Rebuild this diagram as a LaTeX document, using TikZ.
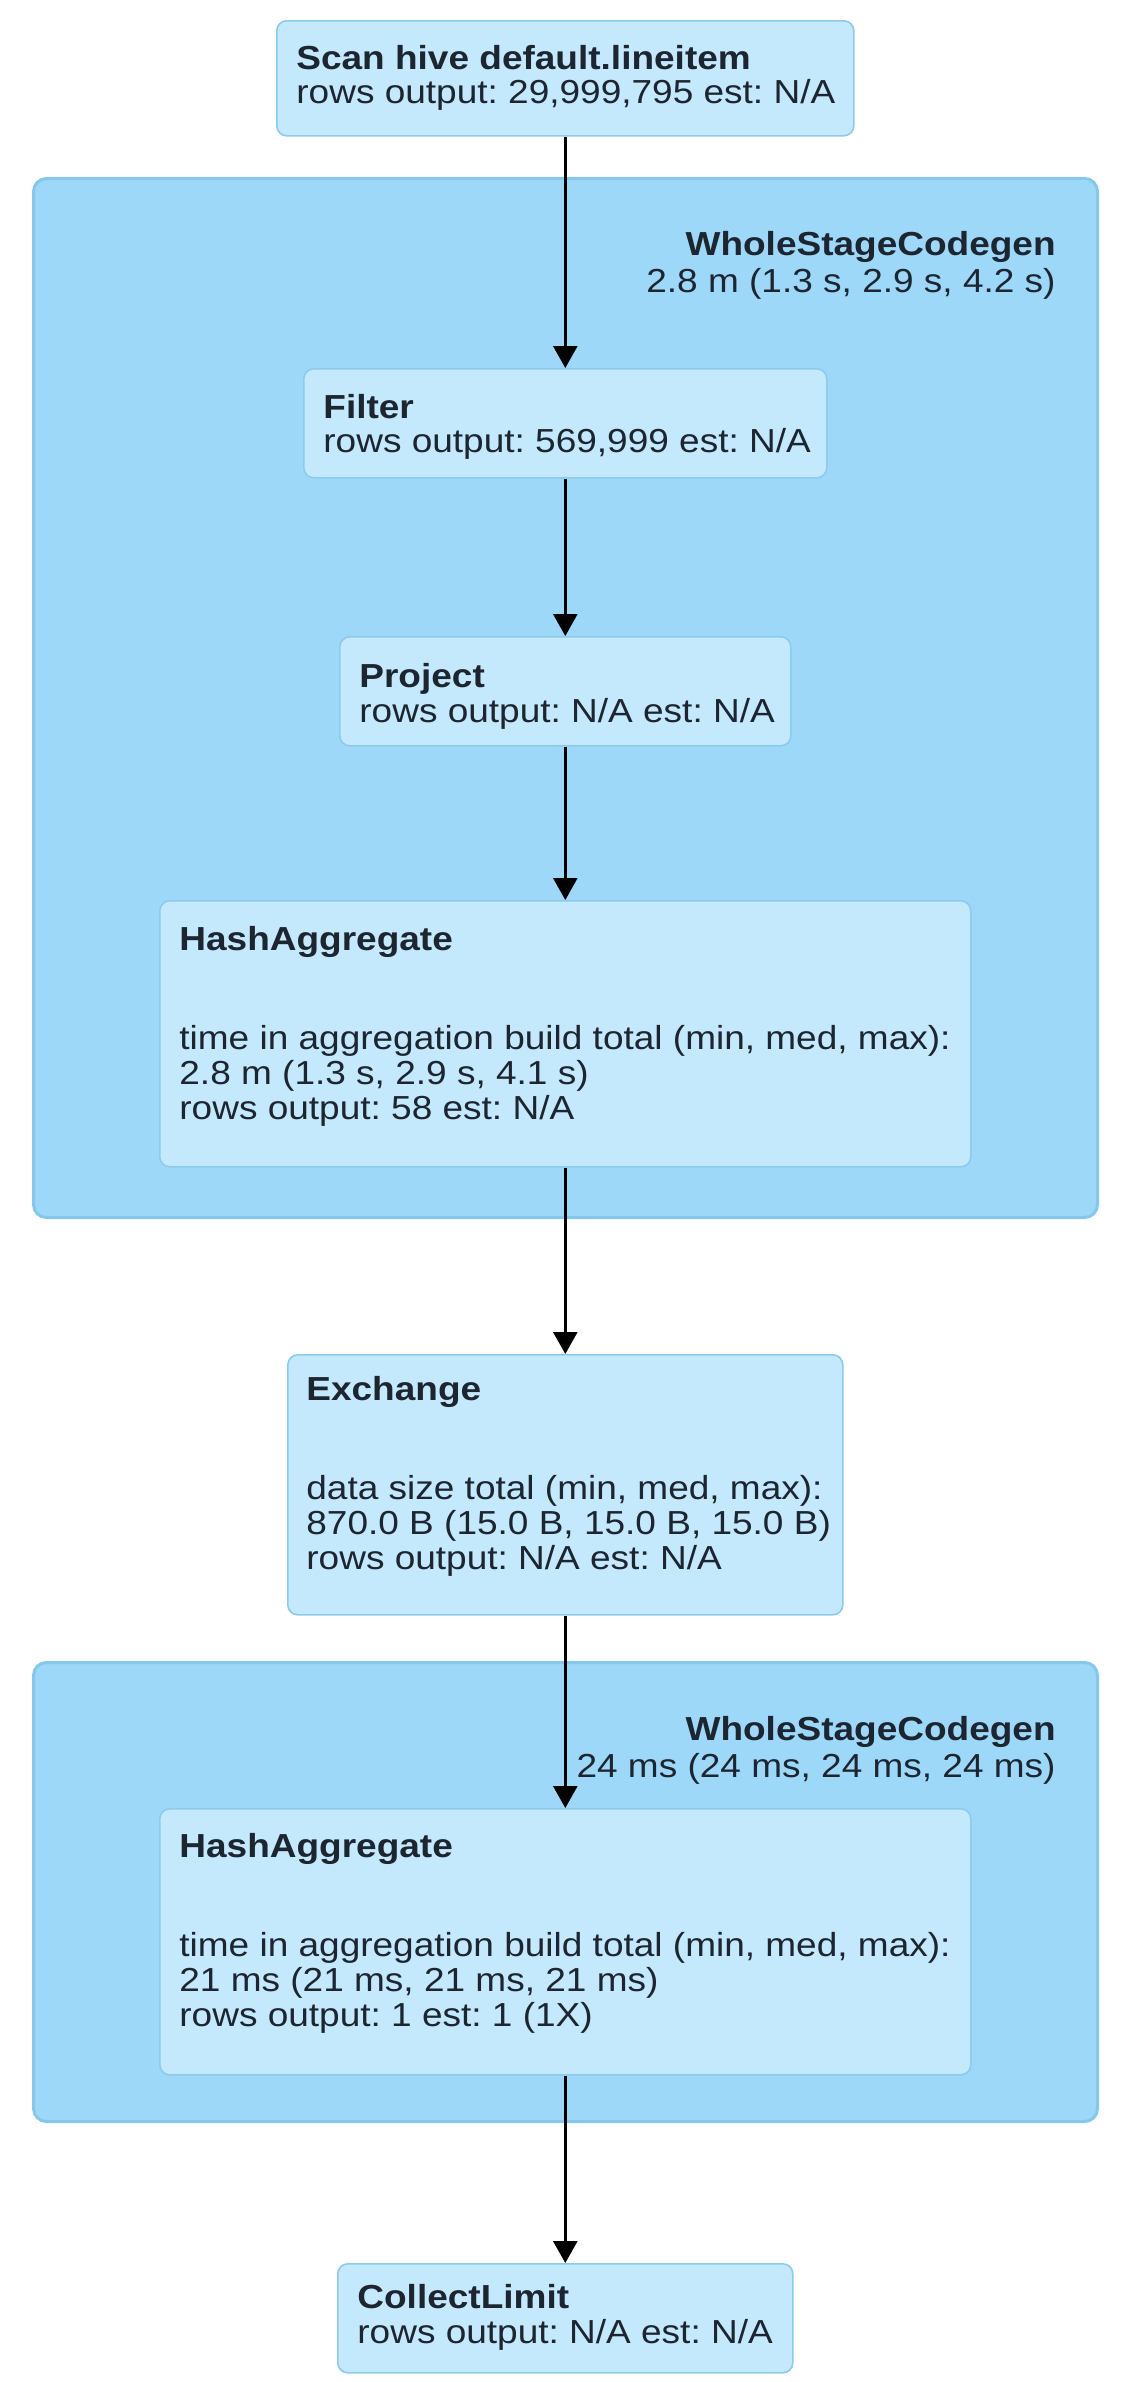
\documentclass[tikz,border=0pt]{standalone}
\usepackage{fontspec}
\setmainfont{Liberation Sans}
\usetikzlibrary{arrows.meta}

\definecolor{clusterfill}{HTML}{9DD8F9}
\definecolor{clusterline}{HTML}{84C8EE}
\definecolor{opfill}{HTML}{C4E8FC}
\definecolor{opline}{HTML}{8CCBEC}
\definecolor{ink}{HTML}{1C2530}

% operator text: left-aligned lines, baseline at the first line
\newcommand{\optext}[1]{\scalebox{1}[0.9]{\begin{tabular}[t]{@{}l@{}}#1\end{tabular}}}
% stage text: right-aligned lines
\newcommand{\stagetext}[1]{\scalebox{1}[0.9]{\begin{tabular}[t]{@{}r@{}}#1\end{tabular}}}

\begin{document}
\frenchspacing
\begin{tikzpicture}[x=0.5pt,y=-0.5pt,
  cluster/.style={draw=clusterline, fill=clusterfill, line width=1.5pt,
    rounded corners=6.5pt, anchor=north west, inner sep=0pt},
  opbox/.style={draw=opline, fill=opfill, line width=0.8pt,
    rounded corners=5pt, anchor=north west, inner sep=0pt},
  optxt/.style={inner sep=0pt, text=ink, font=\fontsize{18.5pt}{19.44pt}\selectfont\frenchspacing},
  flow/.style={draw=black, line width=1.3pt, -{Triangle[width=12pt,length=11pt]}}]

\useasboundingbox[fill=white] (0,0) rectangle (1120,2382);

% code-generation stages
\node[cluster, minimum width=532pt, minimum height=519.5pt] (stage1) at (32,177) {};
\node[cluster, minimum width=532pt, minimum height=229.5pt] (stage2) at (32,1661) {};

\node[optxt, anchor=base east] (stage1-text) at (1056,255)
  {\stagetext{\textbf{WholeStageCodegen}\\[1.6pt]2.8 m (1.3 s, 2.9 s, 4.2 s)}};
\node[optxt, anchor=base east] (stage2-text) at (1056,1740)
  {\stagetext{\textbf{WholeStageCodegen}\\[1.6pt]24 ms (24 ms, 24 ms, 24 ms)}};

% operators
\node[opbox, minimum width=288.5pt, minimum height=57.5pt] (scan) at (276,20) {};
\node[opbox, minimum width=261.5pt, minimum height=54.5pt] (filter) at (303,368) {};
\node[opbox, minimum width=225.5pt, minimum height=54.5pt] (project) at (339,636) {};
\node[opbox, minimum width=405.5pt, minimum height=133pt] (hash1) at (159,900) {};
\node[opbox, minimum width=277.5pt, minimum height=130pt] (exchange) at (287,1354) {};
\node[opbox, minimum width=405.5pt, minimum height=133pt] (hash2) at (159,1808) {};
\node[opbox, minimum width=227.5pt, minimum height=54.5pt] (collect) at (337,2263) {};

\node[optxt, anchor=base west] (scan-text) at (296,69)
  {\optext{\textbf{Scan hive default.lineitem}\\rows output: 29,999,795 est: N/A}};
\node[optxt, anchor=base west] (filter-text) at (323,418)
  {\optext{\textbf{Filter}\\rows output: 569,999 est: N/A}};
\node[optxt, anchor=base west] (project-text) at (359,687)
  {\optext{\textbf{Project}\\rows output: N/A est: N/A}};
\node[optxt, anchor=base west] (hash1-text) at (179,950)
  {\optext{\textbf{HashAggregate}\\[35.6pt]time in aggregation build total (min, med, max):\\2.8 m (1.3 s, 2.9 s, 4.1 s)\\rows output: 58 est: N/A}};
\node[optxt, anchor=base west] (exchange-text) at (306,1400)
  {\optext{\textbf{Exchange}\\[35.6pt]data size total (min, med, max):\\870.0 B (15.0 B, 15.0 B, 15.0 B)\\rows output: N/A est: N/A}};
\node[optxt, anchor=base west] (hash2-text) at (179,1857)
  {\optext{\textbf{HashAggregate}\\[35.6pt]time in aggregation build total (min, med, max):\\21 ms (21 ms, 21 ms, 21 ms)\\rows output: 1 est: 1 (1X)}};
\node[optxt, anchor=base west] (collect-text) at (357,2308)
  {\optext{\textbf{CollectLimit}\\rows output: N/A est: N/A}};

% data flow
\draw[flow] (scan.south) -- (filter.north);
\draw[flow] (filter.south) -- (project.north);
\draw[flow] (project.south) -- (hash1.north);
\draw[flow] (hash1.south) -- (exchange.north);
\draw[flow] (exchange.south) -- (hash2.north);
\draw[flow] (hash2.south) -- (collect.north);
\end{tikzpicture}
\end{document}
